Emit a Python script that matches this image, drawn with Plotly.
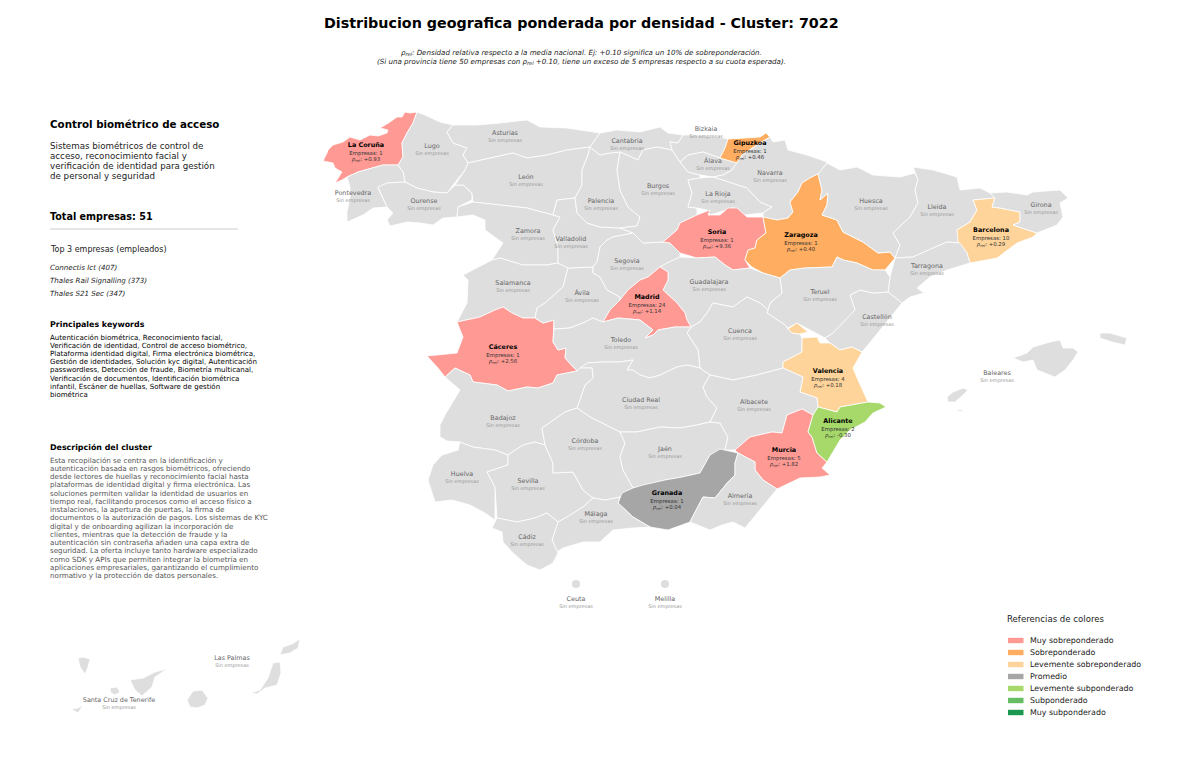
import plotly.graph_objects as go

# Contornos (x, y en pixeles de la figura)
outlines = {
    "La Coruña": [(417,112),(410,113),(405,112),(402,117),(397,117),(390,122),(380,128),(388,130),(387,133),(378,136),(370,135),(360,140),(350,137),(343,142),(333,145),(328,150),(327,153),(323,161),(333,163),(335,168),(342,172),(338,178),(335,183),(342,180),(347,177),(358,172),(372,168),(383,165),(398,165),(403,157),(402,143),(407,133),(413,123)],
    "Lugo": [(417,112),(425,115),(440,122),(453,125),(447,132),(453,143),(467,148),(463,155),(468,163),(465,170),(457,180),(447,193),(433,192),(417,188),(405,182),(403,172),(398,165),(403,157),(402,143),(407,133),(413,123)],
    "Pontevedra": [(398,165),(383,165),(372,168),(358,172),(347,177),(350,187),(350,197),(347,212),(347,222),(363,215),(373,208),(387,207),(378,188),(387,183),(405,182),(403,172)],
    "Ourense": [(378,187),(387,183),(405,182),(417,188),(433,192),(447,193),(455,185),(463,185),(472,193),(472,200),(458,207),(457,217),(443,218),(433,225),(420,223),(407,222),(390,226),(387,220),(393,213),(387,207)],
    "Asturias": [(453,125),(477,125),(500,123),(527,120),(540,127),(567,128),(600,133),(590,147),(567,150),(547,155),(527,158),(513,153),(490,158),(468,163),(463,155),(467,148),(453,143),(447,132)],
    "León": [(468,163),(490,158),(513,153),(527,158),(547,155),(567,150),(590,147),(588,155),(582,170),(582,185),(575,198),(557,200),(553,215),(527,208),(500,205),(473,202),(472,193),(463,185),(455,185),(465,170)],
    "Zamora": [(458,207),(473,202),(500,205),(527,208),(553,215),(560,217),(553,230),(558,247),(558,263),(547,265),(523,265),(500,258),(492,260),(503,243),(485,230),(485,220),(473,215),(457,217)],
    "Salamanca": [(492,260),(500,258),(523,265),(547,265),(558,263),(568,268),(563,287),(545,303),(537,308),(535,318),(523,318),(512,313),(503,307),(495,310),(480,317),(457,322),(467,303),(468,280),(463,275)],
    "Cáceres": [(457,322),(480,317),(495,310),(503,307),(512,313),(523,318),(535,318),(543,323),(554,320),(553,342),(558,350),(566,348),(565,358),(577,371),(557,375),(553,383),(538,388),(527,387),(508,391),(497,385),(473,382),(470,375),(455,368),(445,377),(438,368),(427,356),(457,353),(463,337)],
    "Ávila": [(568,268),(593,267),(593,273),(600,277),(607,290),(620,297),(620,300),(610,310),(603,322),(593,318),(583,323),(570,328),(554,329),(554,320),(543,323),(535,318),(537,308),(545,303),(563,287)],
    "Valladolid": [(553,215),(557,200),(575,198),(577,213),(587,223),(600,227),(620,228),(633,233),(613,237),(607,240),(600,247),(597,262),(593,267),(568,268),(558,263),(558,247),(553,230),(560,217)],
    "Segovia": [(600,247),(607,240),(613,237),(633,233),(643,243),(663,242),(670,243),(680,253),(680,257),(667,263),(660,267),(648,277),(640,280),(628,290),(620,300),(620,297),(607,290),(600,277),(593,273),(593,267),(597,262)],
    "Palencia": [(590,147),(600,155),(610,153),(620,152),(617,170),(620,190),(628,207),(640,217),(637,226),(620,228),(600,227),(587,223),(577,213),(575,198),(582,185),(582,170),(588,155)],
    "Cantabria": [(600,133),(617,130),(640,132),(660,127),(668,133),(683,135),(678,143),(670,142),(672,150),(657,147),(643,150),(638,160),(620,152),(610,153),(600,155),(590,147)],
    "Burgos": [(638,160),(643,150),(657,147),(672,150),(680,162),(688,172),(700,175),(700,178),(688,180),(692,193),(688,207),(697,208),(697,215),(680,223),(677,230),(663,242),(643,243),(633,233),(620,228),(637,226),(640,217),(628,207),(620,190),(617,170),(620,152)],
    "Bizkaia": [(683,135),(697,135),(723,138),(728,139),(725,148),(720,158),(703,152),(688,155),(680,162),(672,150),(670,142),(678,143)],
    "Álava": [(680,162),(688,155),(703,152),(720,158),(737,163),(732,170),(723,175),(713,177),(700,175),(688,172)],
    "Gipuzkoa": [(728,139),(743,138),(760,137),(766,133),(770,137),(760,143),(753,148),(742,155),(737,163),(720,158),(725,148)],
    "La Rioja": [(688,180),(700,178),(713,177),(723,180),(747,188),(760,202),(772,207),(763,213),(745,215),(733,208),(720,212),(710,215),(707,210),(697,208),(688,207),(692,193)],
    "Navarra": [(770,137),(773,142),(785,140),(788,150),(807,155),(827,162),(822,170),(818,174),(810,178),(802,183),(798,192),(790,202),(793,212),(788,218),(777,220),(763,217),(763,213),(772,207),(760,202),(747,188),(723,180),(713,177),(723,175),(732,170),(737,163),(742,155),(753,148),(760,143)],
    "Soria": [(710,210),(708,215),(720,215),(728,208),(737,208),(747,217),(763,217),(766,233),(757,240),(755,248),(748,250),(745,260),(750,268),(733,270),(725,265),(715,257),(697,258),(680,253),(670,243),(663,242),(677,230),(680,223),(697,215)],
    "Zaragoza": [(818,174),(810,178),(802,183),(798,192),(790,202),(793,212),(788,218),(777,220),(763,217),(766,233),(757,240),(755,248),(748,250),(745,260),(752,267),(763,273),(780,278),(790,270),(805,268),(832,267),(837,257),(843,260),(857,263),(873,270),(885,270),(895,258),(890,252),(878,253),(863,242),(843,232),(837,220),(822,215),(827,205),(828,193),(820,200),(822,190)],
    "Huesca": [(827,163),(840,170),(857,167),(873,175),(900,177),(915,173),(918,180),(915,190),(918,203),(910,217),(893,233),(900,245),(895,258),(890,252),(878,253),(863,242),(843,232),(837,220),(822,215),(827,205),(828,193),(820,200),(822,190),(818,174)],
    "Lleida": [(913,167),(933,170),(957,177),(960,190),(980,188),(990,193),(995,198),(973,200),(977,210),(970,222),(957,230),(960,243),(947,242),(933,248),(913,257),(895,258),(900,245),(893,233),(910,217),(918,203),(915,190),(918,180),(915,173)],
    "Barcelona": [(973,200),(995,198),(992,207),(1000,208),(1020,212),(1020,222),(1013,225),(1037,233),(1033,237),(1017,243),(997,258),(970,263),(967,253),(958,242),(957,230),(970,222),(977,210)],
    "Girona": [(995,198),(990,193),(1007,192),(1027,195),(1033,192),(1060,190),(1068,198),(1060,203),(1063,217),(1057,225),(1037,233),(1013,225),(1020,222),(1020,212),(1000,208),(992,207)],
    "Tarragona": [(895,258),(913,257),(933,248),(947,242),(960,243),(967,253),(970,263),(947,270),(930,277),(917,288),(924,293),(910,297),(902,303),(888,292),(890,277)],
    "Castellón": [(850,295),(860,290),(873,293),(888,292),(902,303),(883,327),(872,340),(862,352),(852,347),(840,350),(830,343),(825,338),(833,333),(845,320),(855,310)],
    "Teruel": [(780,278),(790,270),(805,268),(832,267),(837,257),(843,260),(857,263),(873,270),(885,270),(890,277),(888,292),(873,293),(860,290),(850,295),(855,310),(845,320),(833,333),(825,338),(810,330),(797,323),(788,328),(785,325),(767,313),(768,310),(770,303),(782,293)],
    "Guadalajara": [(680,257),(697,258),(715,257),(725,265),(733,270),(750,268),(763,273),(780,278),(782,293),(770,303),(768,310),(760,303),(747,297),(733,307),(713,303),(707,313),(700,322),(691,327),(687,320),(685,313),(677,303),(663,290),(668,280),(668,272),(660,267),(667,263)],
    "Madrid": [(660,267),(668,272),(668,280),(663,290),(677,303),(685,313),(687,320),(691,327),(675,327),(658,330),(653,335),(645,338),(653,330),(640,320),(618,318),(603,322),(610,310),(620,300),(628,290),(640,280),(648,277)],
    "Cuenca": [(691,327),(700,322),(707,313),(713,303),(733,307),(747,297),(760,303),(768,310),(767,313),(785,325),(788,329),(792,333),(800,334),(802,338),(802,352),(783,362),(783,368),(757,375),(733,380),(710,375),(700,368),(698,350),(687,333)],
    "Valencia": [[(802,338),(817,337),(820,343),(830,343),(840,350),(852,347),(862,352),(853,368),(858,380),(868,402),(840,407),(837,412),(818,407),(817,398),(800,392),(803,377),(783,368),(783,362),(802,352)],[(788,329),(797,323),(808,332),(800,334),(792,333)]],
    "Toledo": [(554,329),(570,328),(583,323),(593,318),(603,322),(618,318),(640,320),(653,330),(645,338),(653,335),(658,330),(675,327),(691,327),(687,333),(698,350),(700,368),(687,365),(677,367),(660,375),(650,378),(640,375),(633,370),(627,370),(633,360),(620,362),(603,362),(587,363),(580,368),(577,371),(565,358),(566,348),(558,350),(553,342)],
    "Ciudad Real": [(580,368),(587,363),(603,362),(620,362),(633,360),(627,370),(633,370),(640,375),(650,378),(660,375),(677,367),(687,365),(700,368),(710,375),(703,387),(707,397),(717,408),(710,422),(697,425),(680,428),(660,427),(637,432),(620,432),(590,417),(577,408),(585,385),(593,378),(592,368)],
    "Badajoz": [(577,371),(580,368),(592,368),(593,378),(585,385),(577,408),(565,412),(542,428),(545,445),(535,442),(523,445),(508,455),(495,450),(473,447),(460,442),(447,441),(440,437),(440,425),(445,415),(460,390),(445,377),(455,368),(470,375),(473,382),(497,385),(508,391),(527,387),(538,388),(553,383),(557,375)],
    "Huelva": [(460,442),(473,447),(495,450),(508,455),(508,465),(487,472),(495,487),(495,520),(485,513),(470,505),(452,500),(435,502),(428,480),(433,465),(442,455),(458,450)],
    "Sevilla": [(508,455),(523,445),(535,442),(545,445),(553,463),(553,473),(573,472),(583,490),(593,498),(583,507),(567,517),(558,522),(547,513),(535,518),(517,522),(497,518),(495,487),(487,472),(508,465)],
    "Córdoba": [(545,445),(542,428),(565,412),(577,408),(590,417),(620,432),(625,443),(620,457),(623,470),(633,488),(620,497),(605,500),(593,498),(583,490),(573,472),(553,473),(553,463)],
    "Jaén": [(620,432),(637,432),(660,427),(680,428),(697,425),(710,422),(720,423),(728,437),(725,450),(710,455),(700,473),(682,477),(665,480),(643,485),(633,488),(623,470),(620,457),(625,443)],
    "Albacete": [(710,375),(733,380),(757,375),(783,368),(803,377),(800,392),(817,398),(818,407),(813,415),(802,409),(787,415),(782,433),(772,432),(750,437),(735,450),(725,450),(728,437),(720,423),(710,422),(717,408),(707,397),(703,387)],
    "Murcia": [(735,450),(750,437),(772,432),(782,433),(787,415),(802,409),(813,415),(808,432),(812,437),(817,453),(827,462),(822,468),(830,475),(820,477),(800,478),(777,489),(763,480),(755,470),(755,462),(738,453)],
    "Alicante": [(818,407),(837,412),(840,407),(868,402),(880,403),(886,407),(873,413),(865,422),(850,430),(840,440),(827,462),(817,453),(812,437),(808,432),(813,415)],
    "Granada": [(720,449),(738,453),(735,463),(735,475),(728,482),(715,498),(703,497),(695,512),(690,522),(668,530),(650,527),(633,517),(618,503),(622,493),(633,488),(643,485),(665,480),(682,477),(700,473),(710,455)],
    "Almería": [(738,453),(755,462),(755,470),(763,480),(777,489),(760,510),(745,528),(733,522),(722,525),(710,530),(690,522),(695,512),(703,497),(715,498),(728,482),(735,475),(735,463)],
    "Málaga": [(593,498),(605,500),(620,497),(618,503),(633,517),(650,527),(633,528),(613,530),(600,542),(583,542),(563,548),(557,552),(552,540),(558,522),(567,517),(583,507)],
    "Cádiz": [(497,518),(517,522),(535,518),(547,513),(558,522),(552,540),(558,553),(553,563),(540,570),(527,565),(513,553),(503,542),(502,532),(492,528)],
    "Baleares": [[(1013,358),(1027,353),(1033,347),(1050,342),(1060,340),(1063,348),(1073,348),(1078,352),(1073,360),(1065,370),(1055,377),(1037,370),(1033,360),(1023,362)],[(947,397),(953,392),(963,388),(968,390),(963,395),(955,402),(948,402)],[(955,412),(960,409),(966,413),(960,411)],[(1100,333),(1110,333),(1127,338),(1125,345),(1112,342),(1100,338)]],
    "Santa Cruz de Tenerife": [[(71,709),(78,708),(83,705),(78,713)],[(78,658),(83,657),(90,659),(88,667),(85,674),(80,667)],[(110,688),(117,687),(120,692),(115,695),(111,693)],[(130,680),(143,678),(155,672),(167,669),(155,677),(152,687),(142,696),(135,690)]],
    "Las Palmas": [[(187,700),(193,691),(202,690),(208,698),(205,705),(197,708),(190,707)],[(251,693),(260,690),(268,678),(273,663),(280,662),(281,673),(277,685),(265,688),(257,694)],[(280,655),(283,647),(292,644),(300,639),(298,648),(290,653)]],
}

# Ceuta y Melilla se dibujan como puntos
plazas = ["Ceuta", "Melilla"]
plazas_x = [576, 665]
plazas_y = [584, 584]

# Provincias con empresas
activas = ["La Coruña", "Gipuzkoa", "Barcelona", "Soria", "Zaragoza", "Madrid", "Cáceres", "Valencia", "Alicante", "Murcia", "Granada"]
activas_empresas = [1, 1, 10, 1, 1, 24, 1, 4, 2, 5, 1]
activas_rho = ["+0.93", "+0.46", "+0.29", "+9.36", "+0.40", "+1.14", "+2.56", "+0.18", "-0.30", "+1.82", "+0.04"]
activas_nivel = [0, 1, 2, 0, 1, 0, 0, 2, 4, 0, 3]
activas_x = [366, 750, 991, 717, 801, 647, 503, 828, 838, 784, 667]
activas_y = [145, 143, 230, 232, 235, 297, 347, 371, 421, 450, 493]

# Provincias sin empresas
vacias = ["Lugo", "Asturias", "Cantabria", "Bizkaia", "Álava", "Navarra", "León", "Pontevedra", "Ourense", "Palencia", "Burgos", "La Rioja",
          "Huesca", "Lleida", "Girona", "Zamora", "Valladolid", "Segovia", "Tarragona", "Salamanca", "Guadalajara", "Ávila", "Teruel",
          "Castellón", "Cuenca", "Toledo", "Baleares", "Ciudad Real", "Albacete", "Badajoz", "Córdoba", "Jaén", "Huelva", "Sevilla",
          "Almería", "Málaga", "Cádiz", "Ceuta", "Melilla", "Las Palmas", "Santa Cruz de Tenerife"]
vacias_x = [432, 505, 627, 706, 713, 770, 526, 353, 424, 601, 658, 718, 871, 937, 1041, 528, 571, 627, 927, 513, 709, 582, 820,
            877, 740, 621, 997, 641, 754, 503, 585, 665, 462, 528, 740, 596, 527, 576, 665, 232, 119]
vacias_y = [146, 133, 141, 129, 161, 173, 177, 193, 201, 201, 186, 194, 201, 207, 205, 231, 239, 261, 266, 283, 282, 293, 292,
            317, 331, 340, 373, 400, 402, 418, 441, 449, 474, 481, 496, 514, 537, 599, 599, 658, 700]

# Referencias de colores
niveles = ["Muy sobreponderado", "Sobreponderado", "Levemente sobreponderado", "Promedio",
           "Levemente subponderado", "Subponderado", "Muy subponderado"]
colores = ["#FF9994", "#FFAD60", "#FED49A", "#A6A6A6", "#A6D96A", "#66BD63", "#1A9850"]
GRIS_MAPA = "#DEDEDE"

titulo = "Distribucion geografica ponderada por densidad - Cluster: 7022"
nota = ["<i>ρ<sub>rel</sub>: Densidad relativa respecto a la media nacional. Ej: +0.10 significa un 10% de sobreponderación.</i>",
        "<i>(Si una provincia tiene 50 empresas con ρ<sub>rel</sub> +0.10, tiene un exceso de 5 empresas respecto a su cuota esperada).</i>"]
resumen = ["Sistemas biométricos de control de", "acceso, reconocimiento facial y",
           "verificación de identidad para gestión", "de personal y seguridad"]
top3 = ["Connectis Ict (407)", "Thales Rail Signalling (373)", "Thales S21 Sec (347)"]
keywords = ["Autenticación biométrica, Reconocimiento facial,", "Verificación de identidad, Control de acceso biométrico,",
            "Plataforma identidad digital, Firma electrónica biométrica,", "Gestión de identidades, Solución kyc digital, Autenticación",
            "passwordless, Detección de fraude, Biometría multicanal,", "Verificación de documentos, Identificación biométrica",
            "infantil, Escáner de huellas, Software de gestión", "biométrica"]
descripcion = ["Esta recopilación se centra en la identificación y", "autenticación basada en rasgos biométricos, ofreciendo",
               "desde lectores de huellas y reconocimiento facial hasta", "plataformas de identidad digital y firma electrónica. Las",
               "soluciones permiten validar la identidad de usuarios en", "tiempo real, facilitando procesos como el acceso físico a",
               "instalaciones, la apertura de puertas, la firma de", "documentos o la autorización de pagos. Los sistemas de KYC",
               "digital y de onboarding agilizan la incorporación de", "clientes, mientras que la detección de fraude y la",
               "autenticación sin contraseña añaden una capa extra de", "seguridad. La oferta incluye tanto hardware especializado",
               "como SDK y APIs que permiten integrar la biometría en", "aplicaciones empresariales, garantizando el cumplimiento",
               "normativo y la protección de datos personales."]

FUENTE = "DejaVu Sans"


def contorno(puntos):
    # Varias islas/partes se separan con None
    partes = puntos if isinstance(puntos[0], list) else [puntos]
    xs, ys = [], []
    for parte in partes:
        xs += [p[0] for p in parte] + [parte[0][0], None]
        ys += [p[1] for p in parte] + [parte[0][1], None]
    return xs, ys


def texto(x, y, txt, size, color="black", anchor="left", bold=False):
    return dict(x=x, y=y, xref="x", yref="y", text=f"<b>{txt}</b>" if bold else txt, showarrow=False,
                xanchor=anchor, yanchor="middle", align=anchor, borderpad=0,
                font=dict(family=FUENTE, size=size, color=color))


fig = go.Figure()

# Provincias
color_prov = {p: colores[n] for p, n in zip(activas, activas_nivel)}
for nombre, puntos in outlines.items():
    xs, ys = contorno(puntos)
    fig.add_trace(go.Scatter(x=xs, y=ys, mode="lines", fill="toself", name=nombre,
                             fillcolor=color_prov.get(nombre, GRIS_MAPA),
                             line=dict(color="white", width=0.8),
                             hoverinfo="name", showlegend=False))

fig.add_trace(go.Scatter(x=plazas_x, y=plazas_y, mode="markers", text=plazas, hoverinfo="text", showlegend=False,
                         marker=dict(color=GRIS_MAPA, size=8, line=dict(width=0))))

# Etiquetas sin empresas
fig.add_trace(go.Scatter(x=vacias_x, y=vacias_y, mode="text", text=vacias, hoverinfo="skip", showlegend=False,
                         textfont=dict(family=FUENTE, size=6.4, color="#666666")))
fig.add_trace(go.Scatter(x=vacias_x, y=[v + 7.5 for v in vacias_y], mode="text", text=["Sin empresas"] * len(vacias),
                         hoverinfo="skip", showlegend=False,
                         textfont=dict(family=FUENTE, size=5, color="#999999")))

# Etiquetas con empresas
fig.add_trace(go.Scatter(x=activas_x, y=activas_y, mode="text", text=[f"<b>{a}</b>" for a in activas],
                         hoverinfo="skip", showlegend=False,
                         textfont=dict(family=FUENTE, size=6.4, color="black")))
fig.add_trace(go.Scatter(x=activas_x, y=[v + 9 for v in activas_y], mode="text",
                         text=[f"Empresas: {e}" for e in activas_empresas], hoverinfo="skip", showlegend=False,
                         textfont=dict(family=FUENTE, size=5.4, color="#333333")))
fig.add_trace(go.Scatter(x=activas_x, y=[v + 15 for v in activas_y], mode="text",
                         text=[f"<i>ρ<sub>rel</sub></i>: {r}" for r in activas_rho], hoverinfo="skip", showlegend=False,
                         textfont=dict(family=FUENTE, size=5.4, color="#333333")))

# Textos
anots = [texto(581, 23, titulo, 14.3, anchor="center", bold=True)]
anots += [texto(581, 52 + 9.5 * i, t, 7.1, color="#222222", anchor="center") for i, t in enumerate(nota)]
anots.append(texto(49, 124, "Control biométrico de acceso", 10.3, bold=True))
anots += [texto(49, 146 + 10 * i, t, 8.7, color="#222222") for i, t in enumerate(resumen)]
anots.append(texto(49, 216, "Total empresas: 51", 9.6, bold=True))
anots.append(texto(49, 249, "Top 3 empresas (empleados)", 8, color="#222222"))
anots += [texto(49, 267 + 13.3 * i, f"<i>{t}</i>", 7.1, color="#222222") for i, t in enumerate(top3)]
anots.append(texto(49, 324, "Principales keywords", 7.9, bold=True))
anots += [texto(49, 337 + 8.2 * i, t, 7.06) for i, t in enumerate(keywords)]
anots.append(texto(49, 447, "Descripción del cluster", 7.9, bold=True))
anots += [texto(49, 460 + 8.25 * i, t, 7.15, color="#555555") for i, t in enumerate(descripcion)]

# Referencias de colores
anots.append(texto(1006, 619, "Referencias de colores", 8.6, color="#222222"))
formas = [dict(type="line", x0=50, x1=238, y0=229, y1=229, xref="x", yref="y", line=dict(color="#CCCCCC", width=1))]
for i, (n, c) in enumerate(zip(niveles, colores)):
    yy = 640.5 + 12 * i
    formas.append(dict(type="rect", x0=1008, x1=1023.5, y0=yy - 2.7, y1=yy + 2.7, xref="x", yref="y",
                       fillcolor=c, line=dict(width=0)))
    anots.append(texto(1029, yy, n, 7.9, color="#222222"))

fig.update_layout(
    width=1200, height=761,
    margin=dict(l=0, r=0, t=0, b=0),
    plot_bgcolor="white", paper_bgcolor="white",
    xaxis=dict(range=[0, 1200], visible=False),
    yaxis=dict(range=[761, 0], visible=False),
    annotations=anots, shapes=formas,
    hovermode="closest",
)

fig.write_html("out.html", config={"displayModeBar": False}, post_script="document.body.style.margin='0';")
